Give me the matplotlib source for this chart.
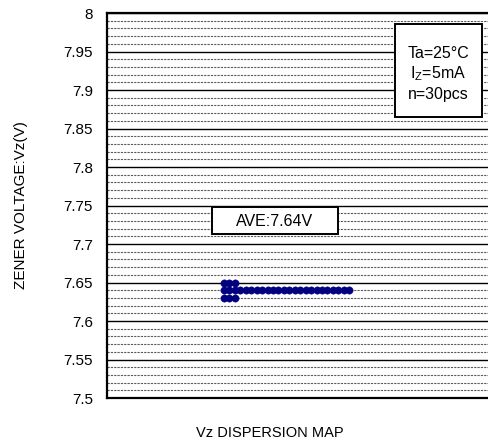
import matplotlib
matplotlib.use('Agg')
import matplotlib.pyplot as plt
from matplotlib.patches import Rectangle
from matplotlib.ticker import MultipleLocator, FormatStrFormatter

plt.rcParams['font.family'] = ['Liberation Sans', 'DejaVu Sans']
plt.rcParams['mathtext.fontset'] = 'custom'
plt.rcParams['mathtext.rm'] = 'Liberation Sans'
plt.rcParams['mathtext.it'] = 'Liberation Sans:italic'

# measured Vz levels and how many pieces fall on each
levels = [7.65, 7.64, 7.63]
counts = [3, 24, 3]
ave_label = 'AVE:7.64V'
cond_lines = ['Ta=25°C', 'I$_{\\mathrm{Z}}$=5mA', 'n=30pcs']

W, H = 488, 448
fig = plt.figure(figsize=(W / 100, H / 100), dpi=100)
ax = fig.add_axes([107 / W, (H - 398) / H, (493 - 107) / W, (398 - 13) / H])

# stack the dots horizontally, one per piece
for v, c in zip(levels, counts):
    xs = list(range(1, c + 1))
    ax.plot(xs, [v] * c, 'o', color='#000080', markersize=5.3,
            markeredgecolor='#000080', markeredgewidth=0.3, zorder=3)

ax.set_xlim(-20.5, 50.4)
ax.set_ylim(7.5, 8.0)
ax.yaxis.set_major_locator(MultipleLocator(0.05))
ax.yaxis.set_minor_locator(MultipleLocator(0.01))
ax.yaxis.set_major_formatter(FormatStrFormatter('%g'))
ax.set_xticks([])
ax.tick_params(axis='y', which='both', length=0, pad=10, labelsize=11)
ax.grid(True, axis='y', which='major', color='black', linewidth=1.0)
ax.grid(True, axis='y', which='minor', color='#5a5a5a', linewidth=0.8,
        linestyle=(0, (2, 1)))
ax.set_axisbelow(True)
for s in ax.spines.values():
    s.set_linewidth(1.6)
    s.set_color('black')

fig.text(21 / W, 1 - 205 / H, 'ZENER VOLTAGE:Vz(V)', rotation=90,
         ha='center', va='center', fontsize=11)
fig.text(270 / W, 1 - 433 / H, 'Vz DISPERSION MAP', ha='center',
         va='center', fontsize=10.5)

# AVE box
fig.patches.append(Rectangle((212 / W, 1 - 234 / H), (338 - 212) / W,
                             (234 - 207) / H, transform=fig.transFigure,
                             facecolor='white', edgecolor='black',
                             linewidth=1.4, zorder=5))
fig.text(275 / W, 1 - 221 / H, ave_label, ha='center', va='center',
         fontsize=11.5, zorder=6)

# condition box
fig.patches.append(Rectangle((395 / W, 1 - 117 / H), (482 - 395) / W,
                             (117 - 24) / H, transform=fig.transFigure,
                             facecolor='white', edgecolor='black',
                             linewidth=1.4, zorder=5))
for i, t in enumerate(cond_lines):
    fig.text(438 / W, 1 - (53 + i * 21) / H, t, ha='center', va='center',
             fontsize=11.5, zorder=6)

fig.savefig('out.png', dpi=100)
